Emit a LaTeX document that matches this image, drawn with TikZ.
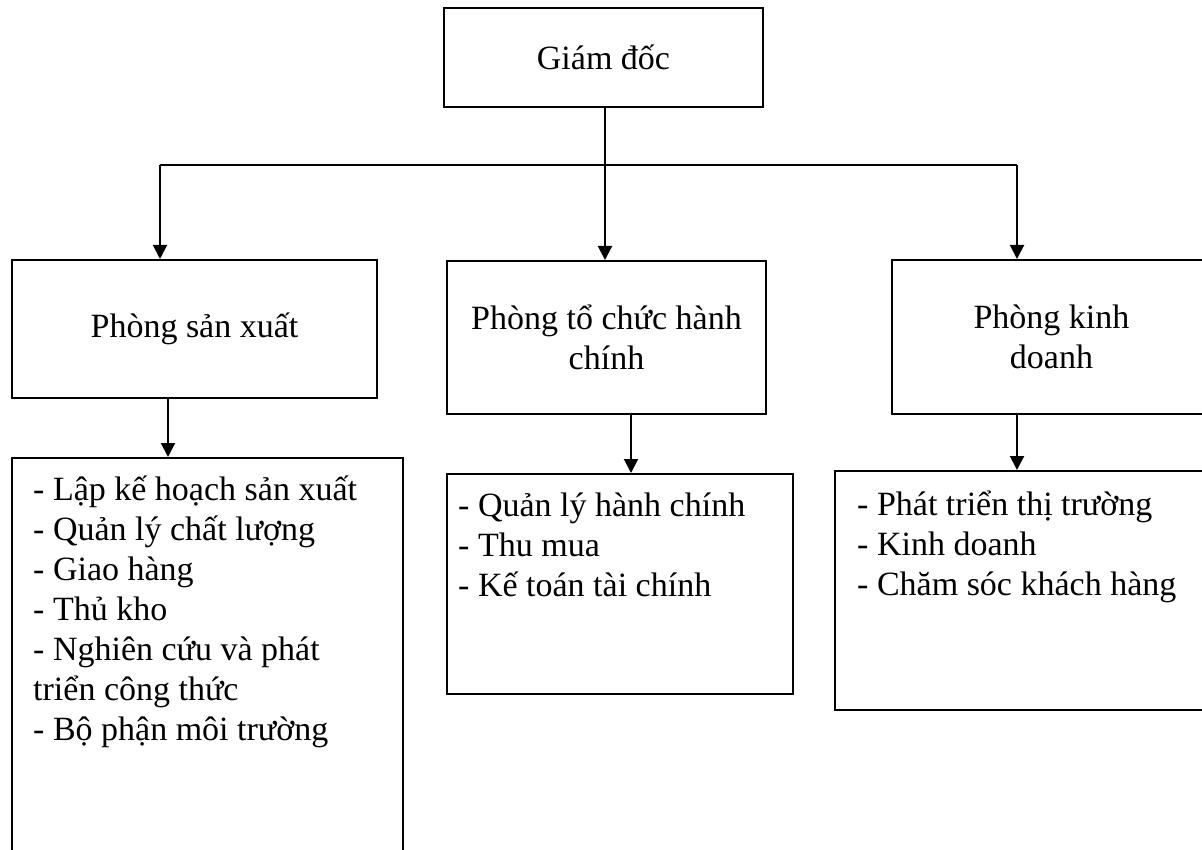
\documentclass[tikz,border=0pt]{standalone}
\usepackage{fontspec}
\setmainfont{Liberation Serif}
\usetikzlibrary{arrows.meta}
\begin{document}
\begin{tikzpicture}[x=1pt,y=-1pt,
  every node/.style={font=\fontsize{34pt}{40pt}\selectfont},
  unitbox/.style={draw,line width=2pt,rectangle,inner sep=0pt,align=center},
  listtext/.style={inner sep=0pt,align=left,anchor=base west},
  link/.style={line width=2pt},
  arr/.style={line width=2pt,-{Triangle[width=14pt,length=14pt]}}]
\useasboundingbox (0,0) rectangle (1202,850);
\clip (0,0) rectangle (1202,850);

% director and the three departments
\node[unitbox,minimum width=319pt,minimum height=99pt] (gd) at (603.5,57.5) {Giám đốc};
\node[unitbox,minimum width=365pt,minimum height=138pt] (psx) at (194.5,329) {Phòng sản xuất};
\node[unitbox,minimum width=319pt,minimum height=153pt] (ptc) at (606.5,337.5) {Phòng tổ chức hành\\chính};
\node[unitbox,minimum width=319pt,minimum height=154pt] (pkd) at (1051.5,337) {Phòng kinh\\doanh};

% task lists of each department
\node[unitbox,minimum width=391pt,minimum height=442pt] (lsx) at (207.5,679) {};
\node[unitbox,minimum width=346pt,minimum height=220pt] (ltc) at (620,584) {};
\node[unitbox,minimum width=375pt,minimum height=239pt] (lkd) at (1022.5,590.5) {};

% the base anchor of a multi-line node sits on its last line
\node[listtext] (tsx) at (33,740) {- Lập kế hoạch sản xuất\\- Quản lý chất lượng\\- Giao hàng\\- Thủ kho\\- Nghiên cứu và phát\\triển công thức\\- Bộ phận môi trường};
\node[listtext] (ttc) at (458,596) {- Quản lý hành chính\\- Thu mua\\- Kế toán tài chính};
\node[listtext] (tkd) at (857,595) {- Phát triển thị trường\\- Kinh doanh\\- Chăm sóc khách hàng};

% branching lines
\coordinate (busL) at (160,165);
\coordinate (busR) at (1017,165);
\coordinate (xsx) at (168,0);
\coordinate (xtc) at (631,0);
\coordinate (xkd) at (1017,0);
\coordinate (xgd) at (605,0);

\draw[link] (busL) -- (busR);
\draw[arr] (gd.south -| xgd) -- (ptc.north -| xgd);
\draw[arr] (busL) -- (busL |- psx.north);
\draw[arr] (busR) -- (busR |- pkd.north);

\draw[arr] (psx.south -| xsx) -- (lsx.north -| xsx);
\draw[arr] (ptc.south -| xtc) -- (ltc.north -| xtc);
\draw[arr] (pkd.south -| xkd) -- (lkd.north -| xkd);
\end{tikzpicture}
\end{document}
